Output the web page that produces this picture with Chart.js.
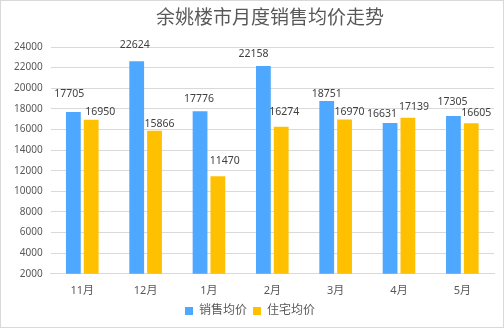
<!DOCTYPE html>
<html>
<head>
<meta charset="utf-8">
<script src="https://cdn.jsdelivr.net/npm/chart.js"></script>
<style>
  html, body { margin: 0; padding: 0; background: #fff; }
  #wrap { position: relative; width: 502px; height: 326px; border: 1px solid #d9d9d9; }
</style>
</head>
<body>
<div id="wrap"><canvas id="priceChart"></canvas></div>
<script>
const months = ['11月', '12月', '1月', '2月', '3月', '4月', '5月'];
const salesAvg = [17705, 22624, 17776, 22158, 18751, 16631, 17305];
const homeAvg = [16950, 15866, 11470, 16274, 16970, 17139, 16605];
const yTicks = [2000, 24000, 2000]; // min, max, step

// hand-placed label nudges [dx, distance above bar top], one set per series
const salesNudge = [[-4, 18], [-2, 16], [-1, 12], [-10, 12], [0, 7], [-8, 9], [-1, 14]];
const homeNudge = [[9, 8], [5, 7], [7, 15], [3, 15], [5, 7], [6, 11], [5, 10]];

const FONT = '"Noto Sans", "Noto Sans CJK SC", sans-serif';

const titleText = '余姚楼市月度销售均价走势';

// title + value labels, drawn by hand so they can sit where they need to
const decorations = {
  id: 'decorations',
  afterDraw(chart) {
    const ctx = chart.ctx;
    ctx.save();
    ctx.font = '19px ' + FONT;
    ctx.fillStyle = '#595959';
    ctx.textAlign = 'center';
    ctx.textBaseline = 'middle';
    ctx.fillText(titleText, 269, 18);

    ctx.font = '10.5px ' + FONT;
    ctx.fillStyle = '#404040';
    const nudges = [salesNudge, homeNudge];
    chart.data.datasets.forEach((ds, i) => {
      chart.getDatasetMeta(i).data.forEach((bar, j) => {
        const [dx, up] = nudges[i][j];
        ctx.fillText(ds.data[j], bar.x + dx, bar.y - up);
      });
    });
    ctx.restore();
  }
};

new Chart(document.getElementById('priceChart'), {
  type: 'bar',
  data: {
    labels: months,
    datasets: [
      { label: '销售均价', data: salesAvg, backgroundColor: '#4ea8ff' },
      { label: '住宅均价', data: homeAvg, backgroundColor: '#ffc000' }
    ]
  },
  options: {
    responsive: true,
    maintainAspectRatio: false,
    animation: false,
    layout: { padding: { top: 46, right: 9, left: 5, bottom: 0 } },
    datasets: { bar: { categoryPercentage: 0.5625, barPercentage: 0.83 } },
    plugins: {
      title: { display: false },
      legend: {
        position: 'bottom',
        labels: {
          color: '#595959',
          font: { family: FONT, size: 12 },
          boxWidth: 8,
          boxHeight: 8,
          padding: 6
        }
      },
      tooltip: { enabled: false }
    },
    scales: {
      x: {
        grid: { display: false },
        border: { color: '#d9d9d9' },
        ticks: { color: '#595959', font: { family: FONT, size: 11 }, padding: 2 }
      },
      y: {
        min: yTicks[0],
        max: yTicks[1],
        ticks: {
          stepSize: yTicks[2],
          color: '#595959',
          font: { family: FONT, size: 10 },
          padding: 8,
          callback: v => String(v)
        },
        grid: { color: '#d9d9d9', drawTicks: false },
        border: { display: false }
      }
    }
  },
  plugins: [decorations]
});
</script>
</body>
</html>
